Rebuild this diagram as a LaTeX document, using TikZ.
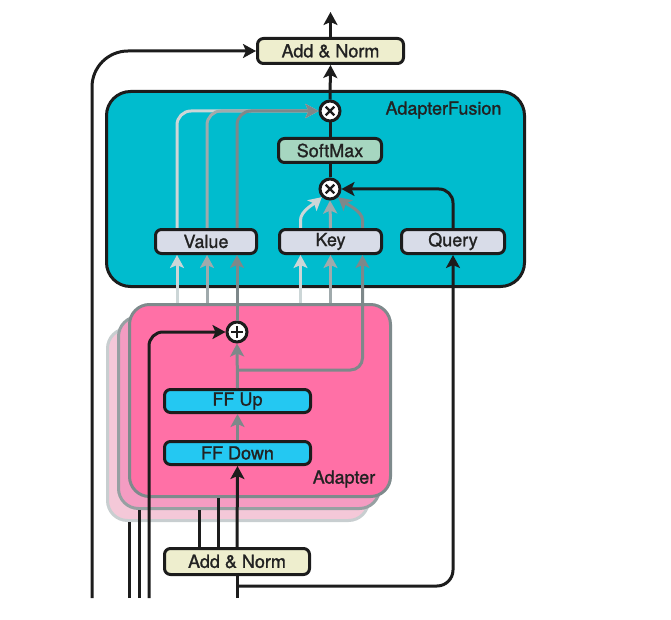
\documentclass[tikz,border=0pt]{standalone}
\usepackage{fontspec}
\setmainfont{TeX Gyre Heros}[RawFeature={embolden=1.2}]
\usetikzlibrary{arrows.meta}
\definecolor{cyanbg}{RGB}{0,188,206}
\definecolor{edge}{RGB}{28,28,28}
\definecolor{txt}{RGB}{34,34,34}
\definecolor{normfill}{RGB}{238,238,206}
\definecolor{softfill}{RGB}{166,214,192}
\definecolor{vkqfill}{RGB}{216,220,232}
\definecolor{pinkA}{RGB}{255,112,166}
\definecolor{pinkB}{RGB}{244,156,194}
\definecolor{pinkC}{RGB}{244,200,216}
\definecolor{pinkedgeA}{RGB}{126,138,140}
\definecolor{pinkedgeB}{RGB}{150,160,162}
\definecolor{pinkedgeC}{RGB}{200,206,208}
\definecolor{fffill}{RGB}{36,200,242}
\definecolor{glight}{RGB}{204,214,215}
\definecolor{gmid}{RGB}{160,170,172}
\definecolor{gdark}{RGB}{126,136,138}
\begin{document}
\begin{tikzpicture}[x=1pt,y=-1pt,
  every node/.style={font=\fontsize{18}{21}\selectfont, text=txt},
  tip/.style={-{Stealth[length=13pt,width=14pt,inset=3pt]}},
  blk/.style={draw=edge, line width=3pt, line join=round},
  gl/.style={draw=glight, line width=3pt},
  gm/.style={draw=gmid, line width=3pt},
  gd/.style={draw=gdark, line width=3pt},
  box/.style={draw=edge, line width=3pt, rounded corners=6pt, inner sep=0pt,
    minimum height=24pt},
  opnode/.style={circle, draw=edge, line width=3pt, fill=white, minimum size=20pt, inner sep=0pt},
  layer/.style={rounded corners=20pt, line width=3pt, minimum width=261pt, minimum height=192pt, inner sep=0pt}
]
\useasboundingbox (0,0) rectangle (671,620);

% AdapterFusion frame
\node[draw=edge, fill=cyanbg, line width=3pt, rounded corners=24pt, minimum width=418pt,
  minimum height=195pt, inner sep=0pt] (fusion) at (315.5,189) {};
\node (fusionlbl) at (443.5,110) {AdapterFusion};

% Adapter layers
\node[layer, draw=pinkedgeC, fill=pinkC] (third) at (238,424.5) {};
\node[layer, draw=pinkedgeB, fill=pinkB] (second) at (249,412.5) {};
\node[layer, draw=pinkedgeA, fill=pinkA] (front) at (260,400.5) {};
\node (adlbl) at (344,479) {Adapter};

% boxes
\node[box, fill=normfill, minimum width=146pt, minimum height=25pt] (topnorm) at (330.5,51) {Add \& Norm};
\node[box, fill=normfill, minimum width=145pt, minimum height=26pt] (botnorm) at (237,561.5) {Add \& Norm};
\node[box, fill=softfill, minimum width=103pt] (softmax) at (330,150.5) {SoftMax};
\node[box, fill=vkqfill, minimum width=101pt] (value) at (206,241.5) {Value};
\node[box, fill=vkqfill, minimum width=102pt] (key) at (330.5,241.5) {Key};
\node[box, fill=vkqfill, minimum width=103pt] (query) at (453,241.5) {Query};
\node[box, fill=fffill, minimum width=146pt, minimum height=23pt] (ffup) at (237.5,401) {FF Up};
\node[box, fill=fffill, minimum width=146pt, minimum height=23pt] (ffdown) at (237.5,453) {FF Down};

% operators
\node[opnode] (mulA) at (330,111) {};
\node[opnode] (mulB) at (330,189) {};
\node[opnode] (plus) at (237,332) {};
\foreach \n in {mulA,mulB}{
  \draw[edge, line width=2.4pt] ([shift={(-4.3pt,-4.3pt)}]\n.center) -- ([shift={(4.3pt,4.3pt)}]\n.center);
  \draw[edge, line width=2.4pt] ([shift={(-4.3pt,4.3pt)}]\n.center) -- ([shift={(4.3pt,-4.3pt)}]\n.center);
}
\draw[edge, line width=2.2pt] ([xshift=-6pt]plus.center) -- ([xshift=6pt]plus.center);
\draw[edge, line width=2.2pt] ([yshift=-6pt]plus.center) -- ([yshift=6pt]plus.center);

% coordinates
\coordinate (outtop) at (330.5,12);
\coordinate (vl) at ([xshift=-29pt]value.south);
\coordinate (vm) at ([xshift=1pt]value.south);
\coordinate (vd) at ([xshift=31pt]value.south);
\coordinate (vlt) at ([xshift=-29pt]value.north);
\coordinate (vmt) at ([xshift=1pt]value.north);
\coordinate (vdt) at ([xshift=31pt]value.north);
\coordinate (kl) at ([xshift=-30pt]key.south);
\coordinate (km) at (key.south);
\coordinate (kd) at ([xshift=32pt]key.south);
\coordinate (klt) at ([xshift=-30pt]key.north);
\coordinate (kdt) at ([xshift=32pt]key.north);
\coordinate (br) at (237,370);
\coordinate (l0) at (92,598);
\coordinate (l1) at (129,598);
\coordinate (l2) at (139,598);
\coordinate (l3) at (149,598);
\coordinate (inb) at (237,598);
\coordinate (qb) at (237,586);
\coordinate (bn1) at ([xshift=-38pt]botnorm.north);
\coordinate (bn2) at ([xshift=-19pt]botnorm.north);

% gray connectors inside AdapterFusion
\draw[gl, tip, rounded corners=14pt] (vlt) |- (mulA.west);
\draw[gm, tip, rounded corners=14pt] (vmt) |- (mulA.west);
\draw[gd, tip, rounded corners=14pt] (vdt) |- (mulA.west);
\draw[gl, tip] (klt) -- ++(0,-8) .. controls +(0,-9) and +(-7,6) .. (mulB.-135);
\draw[gm, tip] (key.north) -- (mulB.south);
\draw[gd, tip] (kdt) -- ++(0,-8) .. controls +(0,-9) and +(7,6) .. (mulB.-45);

% gray inputs to Value and Key
\draw[gl, tip] (vl |- front.north) -- (vl);
\draw[gm, tip] (vm |- front.north) -- (vm);
\draw[gd, tip] (plus.north) -- (vd);
\draw[gl, tip] (kl |- front.north) -- (kl);
\draw[gm, tip] (km |- front.north) -- (km);
\draw[gd, tip, rounded corners=12pt] (br) -| (kd);

% adapter internals
\draw[gd, tip] (ffdown.north) -- (ffup.south);
\draw[gd, tip] (ffup.north) -- (plus.south);

% black connectors
\draw[blk, tip] (topnorm.north) -- (outtop);
\draw[blk, tip] (mulA.north) -- (topnorm.south);
\draw[blk] (softmax.north) -- (mulA.south);
\draw[blk] (mulB.north) -- (softmax.south);
\draw[blk, tip, rounded corners=14pt] (query.north) |- (mulB.east);
\draw[blk, tip, rounded corners=36pt] (l0) |- (topnorm.west);
\draw[blk] (l1) -- (l1 |- third.south);
\draw[blk] (l2) -- (l2 |- second.south);
\draw[blk, tip, rounded corners=14pt] (l3) |- (plus.west);
\draw[blk] (bn1) -- (bn1 |- second.south);
\draw[blk] (bn2) -- (bn2 |- front.south);
\draw[blk, tip] (botnorm.north) -- (ffdown.south);
\draw[blk] (inb) -- (botnorm.south);
\draw[blk, tip, rounded corners=16pt] (qb) -| (query.south);
\end{tikzpicture}
\end{document}
